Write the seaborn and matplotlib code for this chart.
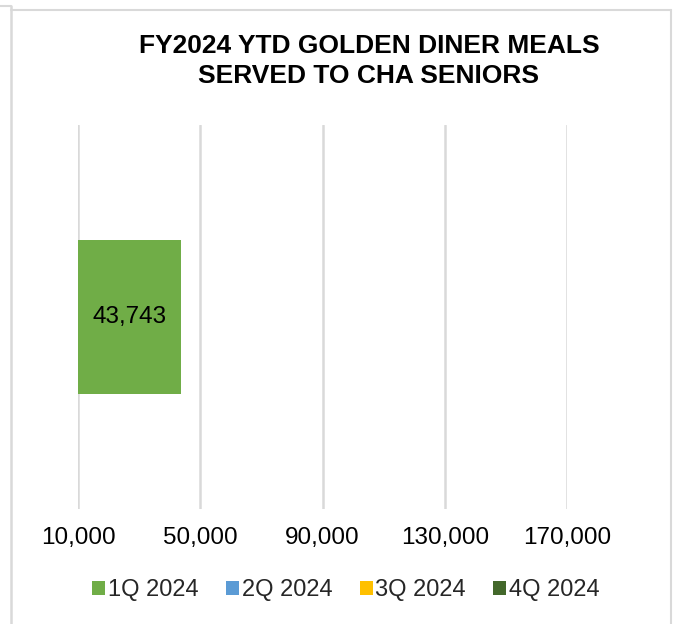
import matplotlib
matplotlib.use("Agg")
import matplotlib.pyplot as plt
import seaborn as sns
import pandas as pd
from matplotlib.patches import Patch
from matplotlib.lines import Line2D

# ---- data ----
category = ["FY2024 YTD"]
series = ["1Q 2024", "2Q 2024", "3Q 2024", "4Q 2024"]
q1_2024 = [43743]
q2_2024 = [0]
q3_2024 = [0]
q4_2024 = [0]
colors = ["#70AD47", "#5B9BD5", "#FFC000", "#43682B"]
x_ticks = [10000, 50000, 90000, 130000, 170000]
title = "FY2024 YTD GOLDEN DINER MEALS\nSERVED TO CHA SENIORS"

sns.set_theme(style="white")
plt.rcParams["font.family"] = ["Liberation Sans", "DejaVu Sans"]

values = [q1_2024, q2_2024, q3_2024, q4_2024]
df = pd.DataFrame({
    "category": category * len(series),
    "series": [s for s in series for _ in category],
    "value": [v for vals in values for v in vals],
})
df["cum"] = df.groupby("category")["value"].cumsum()

fig = plt.figure(figsize=(6.81, 6.24), dpi=100)
W, H = 681, 624
ax = fig.add_axes([78 / W, 1 - 509 / H, (567 - 78) / W, (509 - 125) / H])

# stacked bars: draw cumulative totals from last series to first
for s, c in reversed(list(zip(series, colors))):
    sub = df[df["series"] == s]
    sns.barplot(data=sub, x="cum", y="category", orient="h", color=c,
                saturation=1, width=0.4, linewidth=0, ax=ax, zorder=2)

ax.set_xlim(x_ticks[0], x_ticks[-1])
ax.set_ylim(0.5, -0.5)
ax.set_xticks(x_ticks)
ax.set_xticklabels([f"{t:,}" for t in x_ticks], fontsize=17.5, color="#000000")
ax.tick_params(axis="x", length=0, pad=13)
ax.set_yticks([])
ax.set_xlabel("")
ax.set_ylabel("")
for sp in ax.spines.values():
    sp.set_visible(False)
ax.xaxis.grid(True, color="#d9d9d9", linewidth=1.8)
ax.set_axisbelow(True)

# data label for non-zero segments, centered on visible part
xmin = ax.get_xlim()[0]
left = xmin
for vals in values:
    v = vals[0]
    if v > 0:
        right = left + v if left > xmin else v
        ax.text((max(left, xmin) + right) / 2, 0, f"{v:,}", ha="center",
                va="center", fontsize=17.5, color="#000000", zorder=3)
        left = right

fig.text(369 / W, 1 - 61 / H, title, ha="center", va="center",
         fontsize=19, fontweight="bold", linespacing=1.32, color="#000000")

handles = [Patch(facecolor=c, edgecolor="none") for c in colors]
fig.legend(handles, series, loc="center", bbox_to_anchor=(346 / W, 1 - 590 / H),
           ncol=4, frameon=False, fontsize=17, handlelength=0.55,
           handleheight=0.55, handletextpad=0.12, columnspacing=1.15,
           borderaxespad=0, borderpad=0)

# outer chart border
bc = "#d9d9d9"
fig.add_artist(Line2D([11 / W, 11 / W], [1 - 6 / H, 0], color=bc, lw=1.8,
                      transform=fig.transFigure))
fig.add_artist(Line2D([0, 11 / W], [1 - 6 / H, 1 - 6 / H], color=bc, lw=1.5,
                      transform=fig.transFigure))
fig.add_artist(Line2D([11 / W, 671 / W], [1 - 10 / H, 1 - 10 / H], color=bc,
                      lw=1.5, transform=fig.transFigure))
fig.add_artist(Line2D([671 / W, 671 / W], [1 - 10 / H, 0], color=bc, lw=1.5,
                      transform=fig.transFigure))

fig.savefig("out.png", dpi=100, facecolor="white")
